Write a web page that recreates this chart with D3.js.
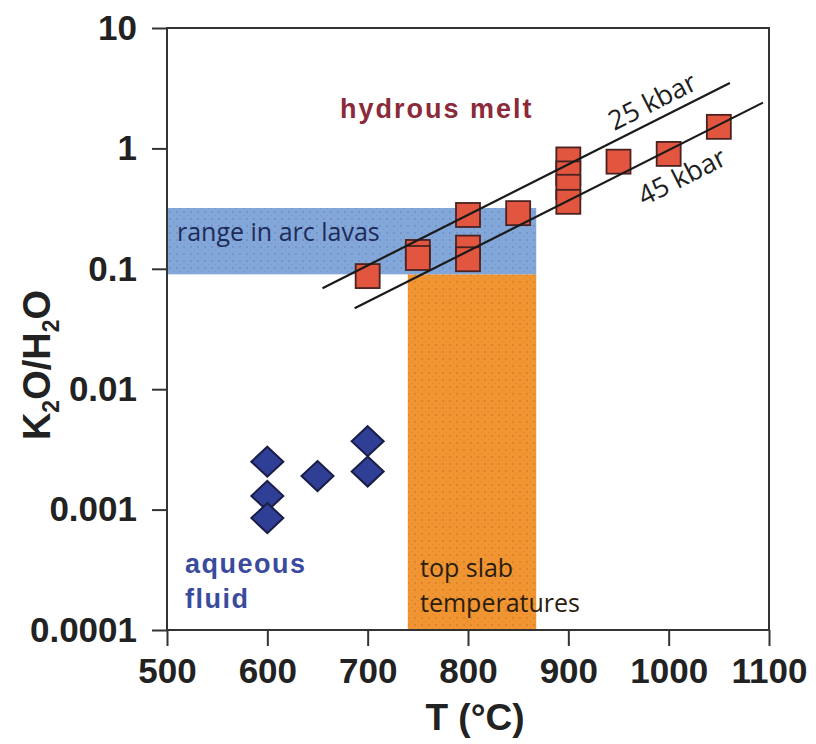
<!DOCTYPE html>
<html>
<head>
<meta charset="utf-8">
<script src="https://cdn.jsdelivr.net/npm/d3@7"></script>
<style>
  html, body { margin: 0; padding: 0; background: #fff; }
  svg { display: block; }
</style>
</head>
<body>
<svg id="chart" width="816" height="744"></svg>
<script>
// Temperature axis (°C) and K2O/H2O axis (log)
const tempTicks = [500, 600, 700, 800, 900, 1000, 1100];
const ratioTicks = [10, 1, 0.1, 0.01, 0.001, 0.0001];
const ratioTickLabels = ["10", "1", "0.1", "0.01", "0.001", "0.0001"];

// Hydrous melt experiments
const meltT     = [700, 750, 750, 800, 800, 800, 850, 900, 900, 900, 900, 950, 1000, 1050];
const meltRatio = [0.087, 0.138, 0.123, 0.28, 0.15, 0.12, 0.29, 0.81, 0.62, 0.48, 0.36, 0.776, 0.90, 1.51];

// Aqueous fluid experiments
const fluidT     = [600, 600, 600, 650, 700, 700];
const fluidRatio = [0.0025, 0.0013, 0.00085, 0.0019, 0.0037, 0.00207];

// Trend lines (endpoints: T, ratio)
const line25T = [655, 1061];
const line25Ratio = [0.069, 3.5];
const line45T = [687, 1094];
const line45Ratio = [0.047, 2.4];

// Shaded ranges
const arcLavaT = [500, 868];
const arcLavaRatio = [0.09, 0.32];
const slabT = [740, 868];
const slabRatio = [0.0001, 0.09];

const svg = d3.select("#chart");
const plotLeft = 167, plotRight = 769, plotTop = 28, plotBottom = 630;

const x = d3.scaleLinear().domain([500, 1100]).range([plotLeft, plotRight]);
const y = d3.scaleLog().domain([0.0001, 10]).range([plotBottom, plotTop]);

// Stipple patterns for the shaded bands
const defs = svg.append("defs");
function stipple(id, base, dot) {
  const p = defs.append("pattern").attr("id", id)
    .attr("patternUnits", "userSpaceOnUse").attr("width", 7).attr("height", 7);
  p.append("rect").attr("width", 7).attr("height", 7).attr("fill", base);
  p.append("circle").attr("cx", 2).attr("cy", 2).attr("r", 0.9).attr("fill", dot).attr("opacity", 0.45);
  p.append("circle").attr("cx", 5.5).attr("cy", 5.5).attr("r", 0.6).attr("fill", dot).attr("opacity", 0.3);
}
stipple("dotsBlue", "#83a7d9", "#4c6ea8");
stipple("dotsOrange", "#f09532", "#a8601a");

// Bands
svg.append("rect")
  .attr("x", x(slabT[0])).attr("width", x(slabT[1]) - x(slabT[0]))
  .attr("y", y(slabRatio[1])).attr("height", y(slabRatio[0]) - y(slabRatio[1]))
  .attr("fill", "url(#dotsOrange)");
svg.append("rect")
  .attr("x", x(arcLavaT[0])).attr("width", x(arcLavaT[1]) - x(arcLavaT[0]))
  .attr("y", y(arcLavaRatio[1])).attr("height", y(arcLavaRatio[0]) - y(arcLavaRatio[1]))
  .attr("fill", "url(#dotsBlue)");

// Axes
const fontAxis = "'Liberation Sans', Arial, Helvetica, sans-serif";
const xAxis = svg.append("g").attr("transform", `translate(0,${plotBottom})`)
  .call(d3.axisBottom(x).tickValues(tempTicks).tickSize(16).tickSizeOuter(0).tickPadding(12).tickFormat(d3.format("d")));
const yAxis = svg.append("g").attr("transform", `translate(${plotLeft},0)`)
  .call(d3.axisLeft(y).tickValues(ratioTicks).tickSize(15).tickSizeOuter(0).tickPadding(15)
    .tickFormat((d, i) => ratioTickLabels[i]));
[xAxis, yAxis].forEach(g => {
  g.select(".domain").remove();
  g.selectAll(".tick line").attr("stroke", "#333").attr("stroke-width", 2);
  g.selectAll(".tick text").attr("fill", "#222").attr("font-family", fontAxis)
    .attr("font-weight", "bold").attr("font-size", 35);
});

// Frame
svg.append("rect").attr("x", plotLeft).attr("y", plotTop)
  .attr("width", plotRight - plotLeft).attr("height", plotBottom - plotTop)
  .attr("fill", "none").attr("stroke", "#333").attr("stroke-width", 2);

// Axis titles
svg.append("text").attr("x", 475).attr("y", 730).attr("text-anchor", "middle")
  .attr("font-family", fontAxis).attr("font-weight", "bold").attr("font-size", 37)
  .attr("fill", "#222").text("T (°C)");

const yt = svg.append("text").attr("transform", "translate(50,365) rotate(-90)")
  .attr("text-anchor", "middle").attr("font-family", fontAxis).attr("font-weight", "bold")
  .attr("font-size", 38).attr("fill", "#222");
yt.append("tspan").text("K");
yt.append("tspan").attr("font-size", 23).attr("dy", 9).text("2");
yt.append("tspan").attr("dy", -9).text("O/H");
yt.append("tspan").attr("font-size", 23).attr("dy", 9).text("2");
yt.append("tspan").attr("dy", -9).text("O");

// Melt squares
const side = 24;
svg.append("g").selectAll("rect")
  .data(d3.zip(meltT, meltRatio))
  .join("rect")
  .attr("x", d => x(d[0]) - side / 2).attr("y", d => y(d[1]) - side / 2)
  .attr("width", side).attr("height", side)
  .attr("fill", "#e2553e").attr("stroke", "#4a2222").attr("stroke-width", 1.8);

// Fluid diamonds
const hw = 16, hh = 15;
svg.append("g").selectAll("path")
  .data(d3.zip(fluidT, fluidRatio))
  .join("path")
  .attr("transform", d => `translate(${x(d[0])},${y(d[1])})`)
  .attr("d", `M0,${-hh}L${hw},0L0,${hh}L${-hw},0Z`)
  .attr("fill", "#2f3f95").attr("stroke", "#1a1d45").attr("stroke-width", 2);

// Trend lines and their labels
const lineGen = d3.line().x(d => x(d[0])).y(d => y(d[1]));
function trend(ts, rs, labelT, label, dy) {
  const pts = d3.zip(ts, rs);
  svg.append("path").attr("d", lineGen(pts))
    .attr("fill", "none").attr("stroke", "#1a1a1a").attr("stroke-width", 2.2);
  const f = (labelT - ts[0]) / (ts[1] - ts[0]);
  const lr = Math.exp(Math.log(rs[0]) + f * (Math.log(rs[1]) - Math.log(rs[0])));
  const ang = Math.atan2(y(rs[1]) - y(rs[0]), x(ts[1]) - x(ts[0])) * 180 / Math.PI;
  svg.append("text")
    .attr("transform", `translate(${x(labelT)},${y(lr)}) rotate(${ang})`)
    .attr("dy", dy).attr("text-anchor", "middle")
    .attr("font-family", "'Open Sans', 'Noto Sans', sans-serif").attr("font-size", 27)
    .attr("fill", "#1e1e1e").text(label);
}
trend(line25T, line25Ratio, 992, "25 kbar", -9);
trend(line45T, line45Ratio, 1000, "45 kbar", 39);

// Region annotations
const humanist = "'Open Sans', 'Noto Sans', sans-serif";
svg.append("text").attr("x", 340).attr("y", 118)
  .attr("font-family", fontAxis).attr("font-weight", "bold").attr("font-size", 27)
  .attr("letter-spacing", 2).attr("fill", "#8a2a3a").text("hydrous melt");
svg.append("text").attr("x", 177).attr("y", 241)
  .attr("font-family", humanist).attr("font-size", 25)
  .attr("fill", "#1e2b5a").text("range in arc lavas");
svg.append("text").attr("x", 420).attr("y", 577)
  .attr("font-family", humanist).attr("font-size", 25)
  .attr("fill", "#2b1d0e").text("top slab");
svg.append("text").attr("x", 420).attr("y", 612)
  .attr("font-family", humanist).attr("font-size", 25)
  .attr("fill", "#2b1d0e").text("temperatures");
svg.append("text").attr("x", 185).attr("y", 573)
  .attr("font-family", fontAxis).attr("font-weight", "bold").attr("font-size", 27)
  .attr("letter-spacing", 1.5).attr("fill", "#3a4b9e").text("aqueous");
svg.append("text").attr("x", 185).attr("y", 608)
  .attr("font-family", fontAxis).attr("font-weight", "bold").attr("font-size", 27)
  .attr("letter-spacing", 1.5).attr("fill", "#3a4b9e").text("fluid");
</script>
</body>
</html>
